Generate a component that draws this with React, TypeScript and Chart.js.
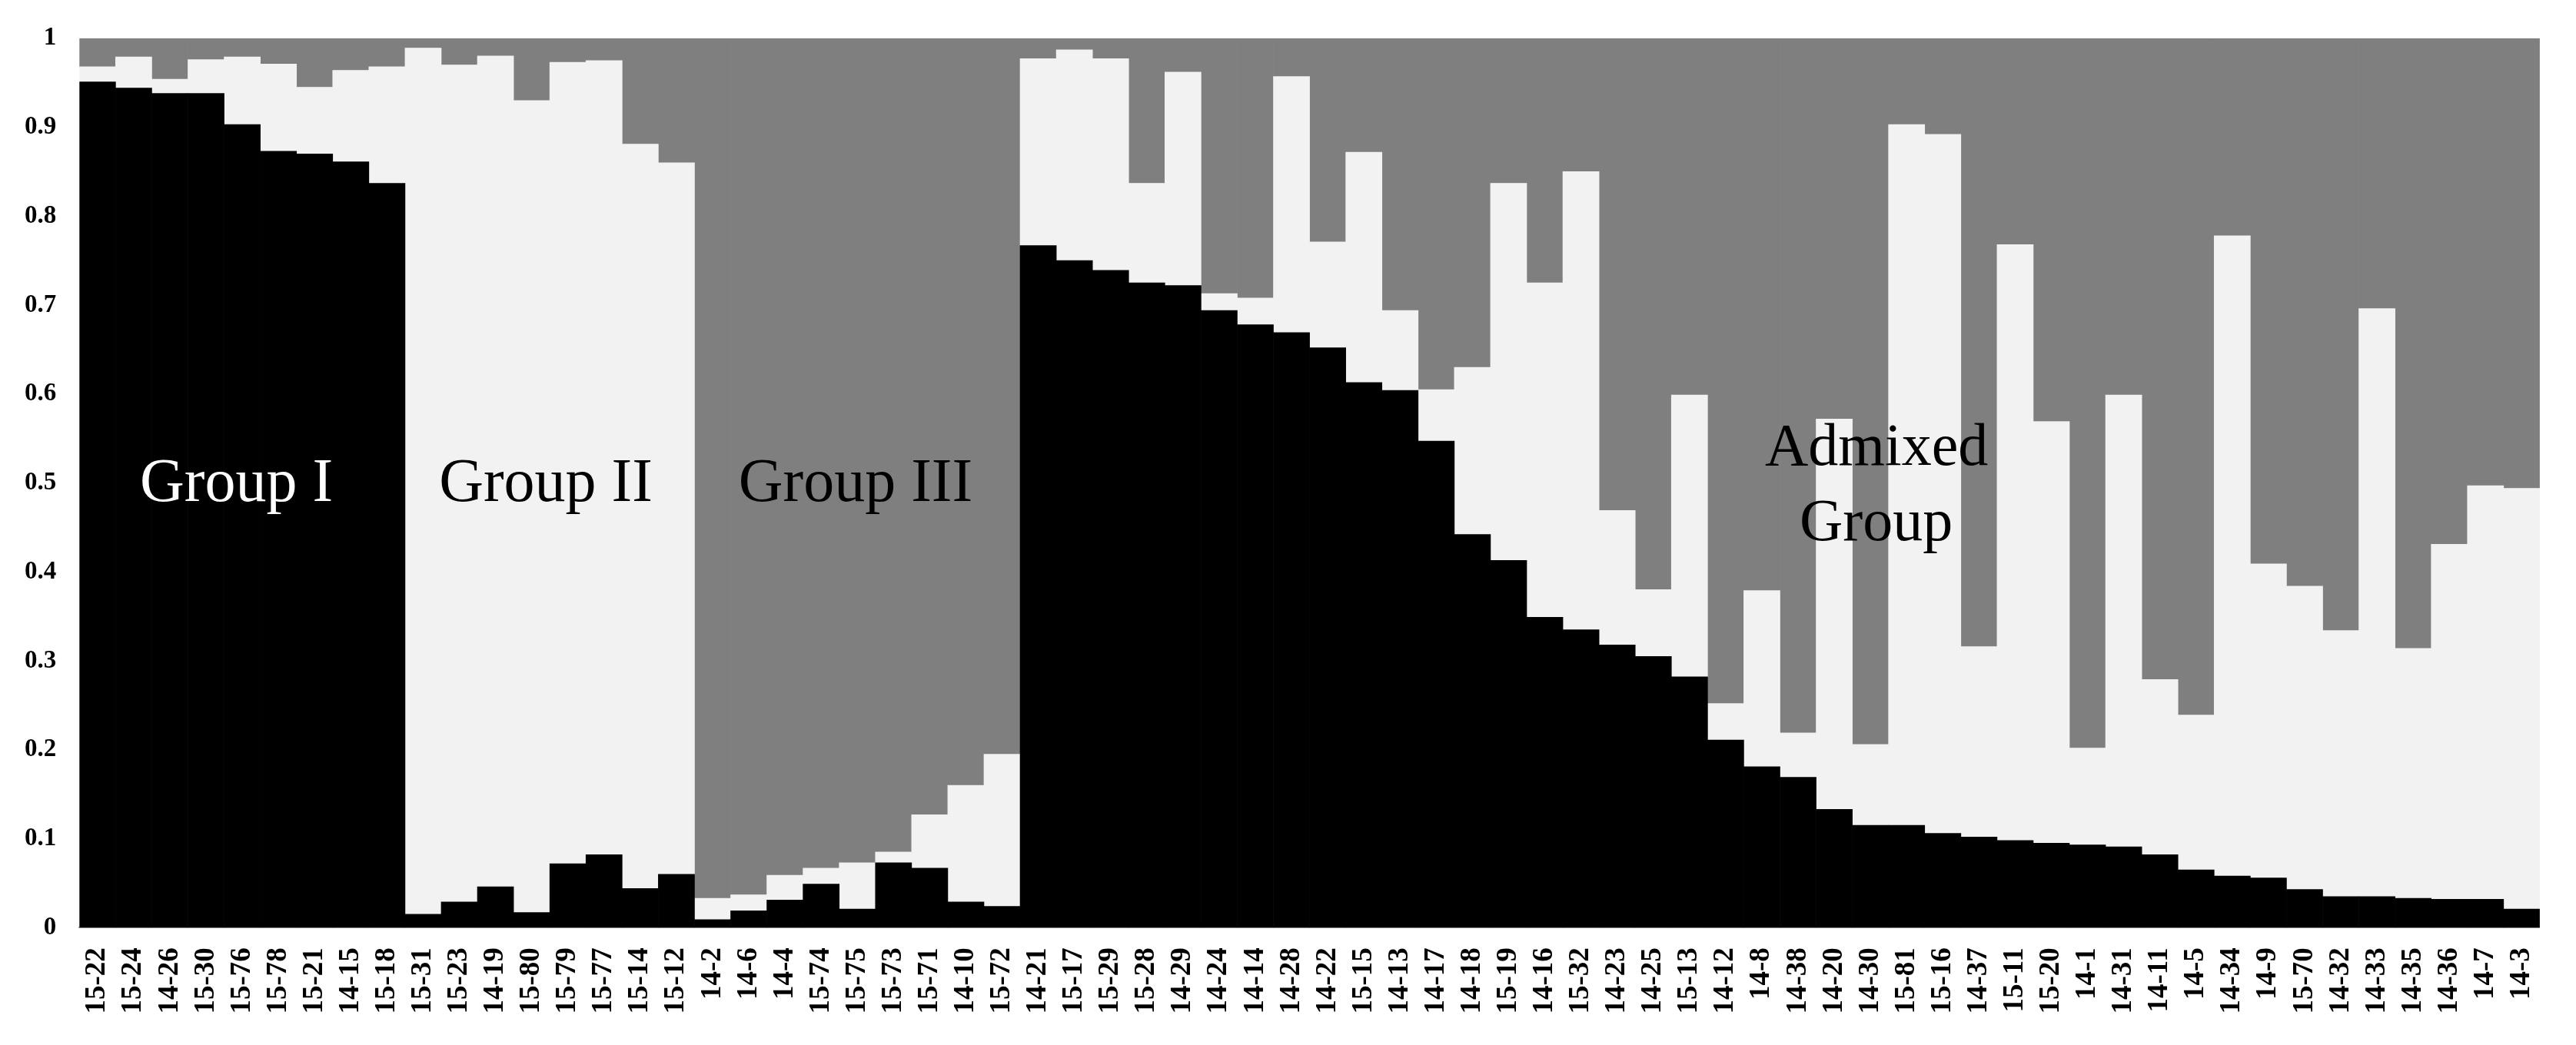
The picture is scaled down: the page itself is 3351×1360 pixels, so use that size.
import React, { useEffect, useRef } from "react";
import { Chart, registerables } from "chart.js";

Chart.register(...registerables);

const samples = [
  "15-22", "15-24", "14-26", "15-30", "15-76", "15-78", "15-21", "14-15", "15-18",
  "15-31", "15-23", "14-19", "15-80", "15-79", "15-77", "15-14", "15-12",
  "14-2", "14-6", "14-4", "15-74", "15-75", "15-73", "15-71", "14-10", "15-72",
  "14-21", "15-17", "15-29", "15-28", "14-29", "14-24", "14-14", "14-28", "14-22",
  "15-15", "14-13", "14-17", "14-18", "15-19", "14-16", "15-32", "14-23", "14-25",
  "15-13", "14-12", "14-8", "14-38", "14-20", "14-30", "15-81", "15-16", "14-37",
  "15-11", "15-20", "14-1", "14-31", "14-11", "14-5", "14-34", "14-9", "15-70",
  "14-32", "14-33", "14-35", "14-36", "14-7", "14-3",
];

// Cluster 1 (black)
const cluster1 = [
  0.951, 0.944, 0.938, 0.938, 0.903, 0.873, 0.870, 0.861, 0.837,
  0.015, 0.029, 0.046, 0.017, 0.072, 0.082, 0.044, 0.060,
  0.009, 0.019, 0.031, 0.049, 0.021, 0.073, 0.067, 0.029, 0.024,
  0.767, 0.750, 0.739, 0.725, 0.722, 0.694, 0.678, 0.669, 0.652,
  0.613, 0.604, 0.547, 0.442, 0.413, 0.349, 0.335, 0.318, 0.305,
  0.282, 0.211, 0.181, 0.169, 0.133, 0.115, 0.115, 0.106, 0.102,
  0.098, 0.095, 0.093, 0.091, 0.082, 0.065, 0.058, 0.056, 0.043,
  0.035, 0.035, 0.033, 0.032, 0.032, 0.021,
];

// Cluster 2 (light grey)
const cluster2 = [
  0.017, 0.035, 0.016, 0.038, 0.076, 0.098, 0.075, 0.103, 0.131,
  0.974, 0.941, 0.934, 0.913, 0.901, 0.893, 0.837, 0.800,
  0.024, 0.018, 0.028, 0.018, 0.052, 0.012, 0.060, 0.131, 0.171,
  0.210, 0.237, 0.238, 0.112, 0.240, 0.019, 0.030, 0.288, 0.119,
  0.259, 0.090, 0.058, 0.188, 0.424, 0.376, 0.515, 0.151, 0.075,
  0.317, 0.041, 0.198, 0.050, 0.439, 0.091, 0.788, 0.786, 0.214,
  0.670, 0.474, 0.109, 0.508, 0.197, 0.174, 0.720, 0.353, 0.341,
  0.299, 0.661, 0.281, 0.399, 0.465, 0.473,
];

// Cluster 3 (dark grey)
const cluster3 = [
  0.032, 0.021, 0.046, 0.024, 0.021, 0.029, 0.055, 0.036, 0.032,
  0.011, 0.030, 0.020, 0.070, 0.027, 0.025, 0.119, 0.140,
  0.967, 0.963, 0.941, 0.933, 0.927, 0.915, 0.873, 0.840, 0.805,
  0.023, 0.013, 0.023, 0.163, 0.038, 0.287, 0.292, 0.043, 0.229,
  0.128, 0.306, 0.395, 0.370, 0.163, 0.275, 0.150, 0.531, 0.620,
  0.401, 0.748, 0.621, 0.781, 0.428, 0.794, 0.097, 0.108, 0.684,
  0.232, 0.431, 0.798, 0.401, 0.721, 0.761, 0.222, 0.591, 0.616,
  0.666, 0.304, 0.686, 0.569, 0.503, 0.506,
];

const yTickLabels = ["0", "0.1", "0.2", "0.3", "0.4", "0.5", "0.6", "0.7", "0.8", "0.9", "1"];

const groupNames = ["Group I", "Group II", "Group III", "Admixed", "Group"];

// annotation placement (category index, value) and colour
const groupLabelPlacement = [
  { x: 3.84, y: 0.48, color: "#ffffff" },
  { x: 12.39, y: 0.48, color: "#000000" },
  { x: 20.95, y: 0.48, color: "#000000" },
  { x: 49.17, y: 0.52, color: "#000000" },
  { x: 49.16, y: 0.436, color: "#000000" },
];

const groupLabelPlugin = {
  id: "groupLabels",
  afterDatasetsDraw(chart: any) {
    const { ctx, scales } = chart;
    ctx.save();
    ctx.textAlign = "center";
    ctx.textBaseline = "alphabetic";
    groupNames.forEach((name, i) => {
      const p = groupLabelPlacement[i];
      ctx.font = i >= 3 ? '78px "Liberation Serif"' : '80px "Liberation Serif"';
      ctx.fillStyle = p.color;
      ctx.fillText(name, scales.x.getPixelForValue(p.x), scales.y.getPixelForValue(p.y));
    });
    ctx.restore();
  },
};

export default function App() {
  const canvasRef = useRef<HTMLCanvasElement | null>(null);

  useEffect(() => {
    if (!canvasRef.current) return;
    const chart = new Chart(canvasRef.current, {
      type: "bar",
      data: {
        labels: samples,
        datasets: [
          { label: "K1", data: cluster1, backgroundColor: "#000000", borderWidth: 0 },
          { label: "K2", data: cluster2, backgroundColor: "#f2f2f2", borderWidth: 0 },
          { label: "K3", data: cluster3, backgroundColor: "#7f7f7f", borderWidth: 0 },
        ],
      },
      options: {
        responsive: false,
        animation: false,
        devicePixelRatio: 1,
        layout: { padding: { left: 0, top: 45, right: 33.5, bottom: 0 } },
        datasets: { bar: { barPercentage: 1, categoryPercentage: 1 } },
        plugins: { legend: { display: false }, tooltip: { enabled: false } },
        scales: {
          x: {
            stacked: true,
            grid: { display: false, drawTicks: false },
            border: { display: true, color: "#a6a6a6", width: 2 },
            ticks: {
              autoSkip: false,
              minRotation: 90,
              maxRotation: 90,
              padding: 26,
              color: "#000000",
              font: { family: '"Liberation Serif"', size: 37, weight: "bold" },
            },
            afterFit: (scale: any) => {
              scale.height = 152.7;
            },
          },
          y: {
            stacked: true,
            min: 0,
            max: 1,
            grid: { display: false, drawTicks: false },
            border: { display: false },
            ticks: {
              stepSize: 0.1,
              padding: 30,
              color: "#000000",
              font: { family: '"Liberation Serif"', size: 33, weight: "bold" },
              callback: (_v: any, i: number) => yTickLabels[i],
            },
            afterFit: (scale: any) => {
              scale.width = 103.3;
            },
          },
        },
      },
      plugins: [groupLabelPlugin],
    });
    return () => chart.destroy();
  }, []);

  return (
    <div style={{ position: "absolute", left: 0, top: 0, width: 3351, height: 1360, background: "#ffffff" }}>
      <canvas ref={canvasRef} width={3351} height={1360} style={{ display: "block", width: 3351, height: 1360 }} />
    </div>
  );
}
